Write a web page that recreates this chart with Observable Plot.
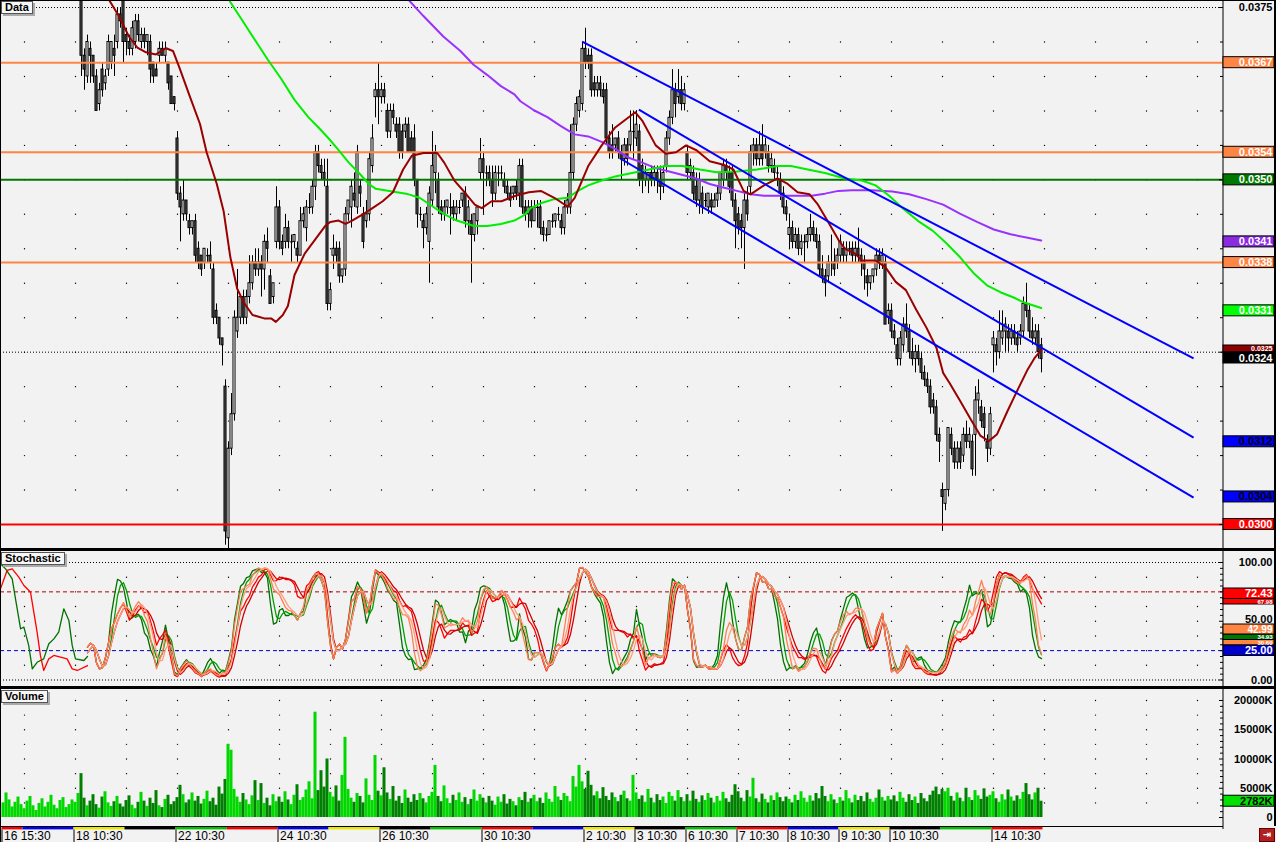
<!DOCTYPE html>
<html><head><meta charset="utf-8">
<script src="https://cdn.jsdelivr.net/npm/d3@7"></script>
<script src="https://cdn.jsdelivr.net/npm/@observablehq/plot@0.6"></script>
<style>
html,body{margin:0;padding:0;background:#f2f2f2;}
#wrap{position:relative;width:1276px;height:842px;overflow:hidden;background:#f2f2f2;font-family:"Liberation Sans",Arial,sans-serif;}
#wrap > div{position:absolute;}
svg{display:block}
.ttl{left:1px;height:11px;padding:0 3px;font:bold 11px "Liberation Sans",Arial,sans-serif;line-height:11px;color:#000;background:#f7f7f7;border:1px solid #555;box-shadow:2px 2px 0 #aaa;}
</style></head><body><div id="wrap"></div>
<script>
// ---------- data (prices in units of 0.0001) ----------
const firstBar = 26;
const open = [377,368,365,369,368,365,361,366,364,366,367,369,370,374,376,371,370,369,370,373,370,371,370,370,367,366,368,369,368,367,365,362,
356,348,345,347,344,343,344,340,339,338,339,339,337,331,330,327,320,298,311,316,328,330,333,330,333,335,338,337,338,337,
341,336,333,341,346,341,341,343,341,341,340,339,344,343,346,346,349,354,352,351,349,332,339,340,340,336,337,345,346,348,
346,349,345,344,345,352,362,363,362,363,360,357,360,358,358,357,357,358,356,356,350,345,344,343,341,347,351,350,346,345,
346,346,346,345,346,347,348,344,344,342,344,351,353,351,351,350,348,351,351,350,349,348,348,349,348,352,346,345,
346,344,346,346,343,342,342,344,344,345,344,343,346,346,351,358,360,361,369,368,368,364,363,364,363,363,356,355,355,356,
354,353,355,355,357,356,357,352,350,350,351,350,351,350,349,352,356,359,363,362,363,361,354,351,351,349,347,348,347,346,
347,346,347,348,350,352,351,351,347,345,344,343,347,349,354,355,353,355,354,354,352,352,351,350,348,346,342,343,341,342,
340,341,341,342,343,342,341,337,336,336,338,338,338,339,340,339,340,340,339,340,339,338,336,335,336,337,339,338,338,330,
331,328,326,324,326,329,328,325,324,325,324,322,321,320,318,317,313,305,303,305,313,311,309,311,310,313,312,312,313,318,
317,316,312,311,326,326,325,327,328,328,327,328,327,327,328,332,331,328,327,328,326];
const high = [379,369,371,370,368,366,364,367,366,371,370,371,375,375,378,372,371,373,374,374,372,372,371,371,367,367,370,370,370,367,365,362,
357,349,350,347,345,344,345,341,339,340,340,341,338,332,330,327,321,312,319,331,337,333,334,334,339,339,340,340,339,342,
343,337,335,349,347,342,345,344,342,342,341,346,346,347,348,350,355,355,353,353,353,335,342,341,341,337,346,347,350,351,
355,350,346,347,354,358,364,367,364,364,361,361,361,359,359,358,359,359,357,358,350,346,345,346,349,357,355,351,347,347,
347,348,347,347,347,348,349,347,345,345,346,356,354,352,352,352,352,352,352,351,350,349,349,350,353,353,347,347,
347,347,347,347,344,343,344,345,345,346,345,347,348,358,359,362,363,370,372,369,369,365,365,365,364,364,357,358,356,357,
355,356,356,360,360,360,358,353,352,351,352,352,352,352,352,357,360,366,364,366,365,364,355,353,352,351,351,349,348,348,
348,348,349,351,353,353,352,352,348,346,345,348,349,355,356,356,357,358,356,355,354,353,352,351,349,347,345,344,343,343,
342,342,343,345,344,343,342,339,337,339,342,340,340,342,341,341,341,341,341,343,340,339,337,336,337,340,340,340,339,332,
332,329,327,328,330,332,329,327,326,326,325,323,322,321,319,318,314,306,305,314,314,312,312,312,314,315,314,313,320,321,
318,317,313,317,328,327,331,331,330,329,329,329,328,329,333,335,332,330,329,329,327];
const low = [365,363,364,364,364,360,360,362,363,365,366,365,369,372,367,368,368,368,369,370,369,369,368,364,364,365,367,368,367,363,361,360,
347,341,344,344,342,342,338,337,336,337,338,337,329,329,326,323,297,296,310,315,327,329,329,329,332,334,336,336,333,334,
338,332,332,340,340,339,340,340,338,340,338,339,343,341,345,345,347,351,350,349,331,331,337,338,335,335,336,344,343,346,
345,346,340,343,344,351,359,358,361,361,356,356,358,356,353,353,356,354,354,349,343,344,340,342,335,346,348,345,344,344,
345,342,344,344,345,346,343,342,335,341,342,350,345,349,349,346,347,349,350,348,347,346,347,347,346,345,344,343,
343,344,343,342,341,341,342,343,343,344,342,342,345,345,350,357,359,360,366,366,362,362,362,362,361,355,353,353,354,353,
350,352,352,354,353,355,349,348,349,348,349,349,348,347,348,351,355,358,359,361,360,360,350,350,347,346,345,345,346,345,
345,346,346,347,349,350,348,346,340,342,340,337,344,348,352,352,352,352,353,351,351,350,349,347,345,344,340,340,340,339,
339,338,340,341,341,340,336,335,333,335,336,336,337,338,338,338,339,338,338,338,336,334,333,334,335,336,337,337,329,329,
327,326,323,323,325,327,324,323,322,323,321,320,319,316,316,312,309,299,302,304,310,308,308,308,309,311,311,307,307,316,
314,312,309,310,322,323,324,326,325,325,326,326,325,326,327,330,327,326,326,324,322];
const close = [368,366,370,368,365,360,363,363,365,370,370,368,374,373,370,370,369,372,373,371,371,370,371,366,365,365,369,368,369,364,361,361,
348,346,347,345,343,344,339,338,337,340,339,338,330,330,327,326,299,311,316,330,330,333,330,333,335,338,337,338,337,341,
340,332,335,346,341,340,343,341,341,342,339,344,345,346,346,349,354,352,351,350,332,334,340,339,336,337,345,347,349,347,
354,348,341,345,353,356,363,362,363,362,357,360,359,357,354,354,358,354,354,350,345,345,343,345,348,352,354,346,345,346,
347,346,345,346,346,348,344,346,342,345,346,353,351,351,350,348,351,351,351,349,348,347,349,348,352,346,345,346,
344,346,346,343,342,342,344,344,345,345,343,346,347,351,358,361,362,369,367,367,363,363,364,363,362,356,354,354,356,354,
353,355,353,357,357,358,350,350,351,351,350,351,350,349,351,356,359,363,361,363,361,363,351,352,348,347,350,346,347,348,
346,347,348,351,352,351,349,347,344,343,343,347,345,354,355,353,355,353,355,352,353,351,351,348,346,345,343,341,342,340,
341,341,342,343,342,341,337,336,335,338,338,337,339,341,339,340,340,339,340,339,338,337,335,336,337,339,338,339,329,331,
328,327,324,327,329,328,325,324,325,324,322,321,320,317,317,313,312,304,305,314,311,309,311,309,313,312,313,308,318,319,
315,314,311,316,327,325,328,328,329,327,328,327,326,328,332,331,328,327,328,325,324];
// volume in thousands, bar 0..346
const volume = [2500,4200,3000,1800,2600,3500,2200,
1500,2800,3600,2000,1200,2400,3200,1800,2600,3800,2100,1500,2900,3400,1700,2200,3000,
2600,4100,7500,3300,2000,2800,3900,2200,1600,3500,4400,2500,1900,2700,3600,2300,1800,
2900,3700,2100,1500,2600,4300,2800,1900,3300,2400,4600,2000,1700,3100,3800,2200,2700,
3400,5500,3900,2500,3000,4200,2800,3600,2300,3100,4500,2700,3300,2100,5200,4000,6500,
12500,11500,4800,3500,2600,4100,3000,2200,3700,6300,2900,5800,2400,3300,2000,3900,2700,
3500,2600,4400,3000,2200,3800,5600,2900,3400,4700,6100,3200,18000,4600,8000,5200,10000,
4300,3500,5400,2800,7200,13700,4800,3300,2600,4100,3600,2500,6600,3800,2900,10600,4500,
3700,8500,4200,3100,5300,2800,3600,2400,4700,3300,2600,3900,2900,4100,3200,2500,3600,
4300,8900,3600,2700,5400,3200,2400,3800,2900,4200,2600,3400,2200,3100,4700,2800,3900,
3300,2500,3600,2800,2100,3500,2600,3900,2300,3100,2700,2000,3400,2900,4300,2600,3200,
3800,2700,3300,2400,4200,3100,2600,5300,3500,2900,4100,3600,2700,7000,5200,8900,6100,
4800,7900,5500,3700,4400,3200,5100,3600,2900,4200,3400,2700,3800,4500,3200,2800,7200,
4200,3100,3700,2600,4800,3300,2500,3900,2900,3500,2400,4300,3600,2800,4600,3400,2700,
3900,2800,4500,3100,2600,3700,2900,4100,3300,2500,3600,2800,4300,3200,2600,3800,5600,
4400,3300,2700,4600,3500,6700,3200,2600,4000,3100,2500,3700,2900,4200,3400,2700,3500,
3100,2500,3800,2900,4400,3300,2600,3700,2800,4100,3200,5300,3600,2700,3900,3000,2400,
3400,2800,4600,3200,2500,3800,2900,3600,2700,4200,3100,2600,3300,4700,3400,2800,3600,
3000,3700,2700,4300,3300,2600,3900,2900,3500,2400,4100,3200,2700,3800,4500,5200,3900,
4800,4400,5000,3600,2800,4200,3300,2700,5000,3400,2900,4600,3700,3100,4900,3500,3800,
4400,3200,2600,3900,3000,4700,3500,2800,3700,3100,4300,5800,3900,3000,4200,5000,2782];
// moving averages (bar index, value)
const redMaIdx = [34,35.6,38.4,41.8,44.6,47.5,50.8,54.2,56.5,58.7,62.1,65.5,67.7,71.1,73.4,75.6,77.9,80.1,83,86.9,89.2,90.8,93.1,94.8,97,100.4,103.8,107.2,108.9,111.7,114,116.2,120.2,123,126.4,129.8,133.2,136.1,140,144.6,146.9,150.3,153.7,157.1,159.4,162.7,166,170.7,175.1,179.1,183.6,188.1,190.4,194.9,199.4,203.9,210.6,212.9,217.4,220.8,224.2,227.5,231,235.4,240,243.3,246.7,249,253.5,258,261.4,264.7,268.7,271.5,274.9,278.3,280.5,283.9,286.1,290.7,294,297.4,300.8,304.2,307.6,311,313.2,315.4,318.8,322.2,325.6,328.4,331.2,334.6,338,341.4,343.6,345.9];
const redMaVal = [377,375.8,373.8,370.8,369.2,368.5,368.2,369.1,368.7,366.2,362.1,358.1,354,349.4,345.4,338.8,334.2,332.2,330.4,329.9,329.9,329.4,330.4,331.7,336.2,339.3,341.3,343.3,343.9,344.1,343.6,344.1,345.1,345.9,346.9,348.2,351.5,353.5,353.9,353.9,352.5,349.9,348.2,346.4,345.9,346.9,346.9,347.7,348.2,348.4,347.4,346.1,347.4,352,355,357.6,359.8,358.6,355,353.8,354,355,354.3,352.7,352.2,351.5,348.4,347.9,349.2,350.2,349.4,348.2,347.9,346.4,343.9,341.3,340,339.3,338.3,338.3,337.3,335.2,334,331.2,328.6,325.6,322,320.5,318,315.4,312.9,312.1,313.1,316.4,319.5,322.5,324.1,325.3];
const greenMaIdx = [73,75.6,80.1,84.7,88,92.5,97,101.6,105,108.4,111.7,115.1,118.5,121.8,124.1,128.6,134.2,138.7,143.2,146.6,151.1,156.8,161.3,165.8,170.3,173.6,175.7,179.1,183.6,188.1,191.5,194.9,199.4,203.9,209.5,215.2,220.8,226.4,232.1,237.7,244.5,251.2,258,262.5,268.1,273.8,280.5,286.1,290.7,295.2,299.7,305.3,309.8,314.3,318.8,323.3,327.8,332.3,336.9,340.2,345.9];
const greenMaVal = [378,375.8,372.8,369.7,367.5,364.7,361.6,359.1,357.6,356,354.3,352.5,351,349.4,348.7,348.4,348,347.4,346.1,345.1,344.1,343.3,343.3,343.6,344.1,344.9,345.9,346.6,347.2,347.4,348.4,349.2,349.9,350.5,351,351.5,352,352,351.5,351.1,351.2,351.5,352,352,351.5,351,350.2,349.9,349.2,347.7,345.9,343.9,342.6,340.8,338.8,336.5,334.7,333.7,332.9,332.2,331.4];
const purpleMaIdx = [132,134.2,139.9,146.6,152.3,156.7,161.3,165.8,170.3,172.3,176.8,181.3,185.8,190.4,194.9,199.4,203.9,208.4,212.9,217.4,221.9,226.4,230.9,235.4,239.9,244.5,249,253.5,258,262.5,269.3,273.8,278.3,282.8,289.5,296.3,301.9,307.6,313.2,318.8,324.5,330.1,335.7,341.4,345.9];
const purpleMaVal = [378,376.5,373.8,370.8,368.7,366.7,365.2,363.6,362.4,361.4,360.1,359.1,357.8,356.6,356.3,355.5,354.5,353.2,352.5,351.7,351.2,350.7,350.2,349.4,348.9,348.4,347.9,347.7,347.7,347.7,347.7,348,348.4,348.5,348.5,348.3,347.9,347.2,346.4,345.1,343.9,342.8,342.1,341.6,341.2];
// trend channel: start bar, start value, end bar, end value
const chanX1 = [192.9, 211.8, 205.6];
const chanY1 = [370.07, 360.2, 353.1];
const chanX2 = [396.7, 396.7, 396.7];
const chanY2 = [324.1, 312.6, 303.9];
// horizontal levels
const levelVal = [367, 354, 350, 338, 300];
const levelColor = ["#ff8545", "#ff8545", "#007800", "#ff8545", "#ff0000"];
// right-hand price labels
const priceLabelVal = [367, 354, 350, 341, 338, 331, 325, 324, 312, 304, 300];
const priceLabelText = ["0.0367","0.0354","0.0350","0.0341","0.0338","0.0331","0.0325","0.0324","0.0312","0.0304","0.0300"];
const priceLabelFill = ["#ff8545","#ff8545","#007800","#8a2be2","#ff8545","#00ff00","#8b0000","#000000","#0000ff","#0000ff","#ff0000"];
const priceLabelInk = ["#fff","#fff","#fff","#fff","#fff","#fff","#fff","#fff","#000","#000","#fff"];
// stochastic: lines before the first visible price bar
const stochLeadGreenIdx = [-1,0.7,2.9,4,5.7,6.8,8.4,9.6,11.2,13.4,15.1,16.8,18.4,20.1,21.8,22.9,24,26.8,28];
const stochLeadGreenVal = [98.9,94.6,86.1,69.1,43.6,45,29.4,9.5,15.1,18,30.8,35,40.7,60.6,50.6,29.4,18,16.6,20];
const stochLeadRedIdx = [-1,1.2,2.9,5.1,6.8,7.9,9,10.1,11.2,12.3,13.4,15.1,16.8,19,21.2,22.9,24.6,28];
const stochLeadRedVal = [77.6,93.2,94.6,87.5,80.4,77.6,74.7,57.7,40.7,20.9,8.1,18,20.9,19.4,18,9.5,8.1,12.3];
const stochPeriod = [10, 10, 21, 21, 14, 14];
const stochSmooth = [1, 2, 1, 2, 1, 2];
const stochColor = ["#007000", "#00a000", "#ff0000", "#d00000", "#ff7f55", "#ff9c7a"];
const stochLabelVal = [67.98, 72.43, 34.93, 30.60, 42.99, 25.00];
const stochLabelText = ["67.98", "72.43", "34.93", "30.60", "42.99", "25.00"];
const stochLabelFill = ["#ff0000", "#ff0000", "#007800", "#ff8545", "#ff8545", "#0000cc"];
const stochAxisVal = [100, 50, 0];
const stochAxisText = ["100.00", "50.00", "0.00"];
// volume axis
const volAxisVal = [20000, 15000, 10000, 5000, 0];
const volAxisText = ["20000K", "15000K", "10000K", "5000K", "0"];
const volLastText = "2782K";
// time axis
const dayStart = [0,7,24,41,58,75,92,109,126,143,160,177,194,211,228,245,262,279,296,313,330,347];
const dayLabel = ["16 15:30","","18 10:30","","22 10:30","","24 10:30","","26 10:30","","30 10:30","","2 10:30","3 10:30","6 10:30","7 10:30","8 10:30","9 10:30","10 10:30","","14 10:30"];
const dayColors = ["#ff0000", "#0000ff", "#e8e800", "#000000", "#00c000"];

// ---------- layout (label stacking, in page pixels: box top, box bottom, font size) ----------
const priceLabelLayout = {6: [345, 352, 7], 7: [352, 363, 11]};
const stochLabelLayout = [[598.5, 604, 6], [588, 598.5, 11], [634, 639.5, 6], [639.5, 645, 6], [624, 634, 10], [645, 655.5, 11]];
const stochAxisDy = [0, -1.5, 0];

// ---------- helpers ----------
const W = 1276, PLOT_R = 1222;
const px2i = px => (px - 3) / 3;          // pixel -> bar index
const XD = [px2i(0), px2i(PLOT_R)];
const FONT = "Liberation Sans, Arial, sans-serif";
const AX = px2i(1222.5);
const BOX1 = px2i(1223), BOX2 = px2i(1274), TXT = px2i(1272);
const wrap = document.getElementById("wrap");
function place(node, top) { const d = document.createElement("div"); d.style.left = "0px"; d.style.top = top + "px"; d.appendChild(node); wrap.appendChild(d); return d; }
function base(h, ydom, marks) {
  return Plot.plot({
    width: W, height: h, marginLeft: 0, marginRight: W - PLOT_R, marginTop: 0, marginBottom: 0,
    style: {background: "transparent", overflow: "visible"},
    x: {domain: XD, axis: null}, y: {domain: ydom, axis: null}, color: {type: "identity"},
    marks
  });
}
const gridCols = d3.range(7, 404, 17);
const bold = {fontWeight: "bold", fontFamily: FONT, textAnchor: "end"};

// ---------- price panel ----------
const bars = open.map((o, k) => ({i: firstBar + k, open: o, high: high[k], low: low[k], close: close[k]}));
const bodies = bars.filter(d => d.open !== d.close);
const dojis = bars.filter(d => d.open === d.close);
const pTop = 0, pH = 548, pYD = [296.52, 376.02];
const pUnit = pH / (pYD[1] - pYD[0]);
const pInv = py => pYD[1] - (py - pTop) / pUnit;
const priceDots = gridCols.flatMap(c => d3.range(305, 375, 5).map(v => ({x: c, y: v})));
const ma = (idx, val) => idx.map((x, k) => ({x, y: val[k]}));
const channels = chanX1.map((x, k) => ({x1: x, y1: chanY1[k], x2: chanX2[k], y2: chanY2[k]}));
const pLabels = priceLabelVal.map((v, k) => {
  const py = pTop + (pYD[1] - v) * pUnit;
  const L = priceLabelLayout[k] || [py - 5.5, py + 5.5, 11];
  return {t: priceLabelText[k], f: priceLabelFill[k], c: priceLabelInk[k], y1: pInv(L[1]), y2: pInv(L[0]), ym: pInv((L[0] + L[1]) / 2), fs: L[2]};
});
const priceChart = base(pH, pYD, [
  Plot.dot(priceDots, {x: "x", y: "y", r: 0.7, fill: "#000", stroke: "none"}),
  Plot.ruleY([375, 325], {stroke: "#000", strokeDasharray: "1,2"}),
  Plot.ruleX(bars, {x: "i", y1: "low", y2: "high", stroke: "#000", clip: true}),
  Plot.rect(bodies, {x1: d => d.i - 0.34, x2: d => d.i + 0.34, y1: "open", y2: "close", fill: d => d.close > d.open ? "#ffffff" : "#555555", stroke: "#000", strokeWidth: 1, clip: true}),
  Plot.link(dojis, {x1: d => d.i - 0.5, x2: d => d.i + 0.5, y1: "open", y2: "open", stroke: "#000", clip: true}),
  Plot.ruleY(levelVal.map((v, k) => ({v, c: levelColor[k]})), {y: "v", stroke: "c", strokeWidth: 2}),
  Plot.line(ma(purpleMaIdx, purpleMaVal), {x: "x", y: "y", stroke: "#9a32ff", strokeWidth: 2, clip: true}),
  Plot.line(ma(greenMaIdx, greenMaVal), {x: "x", y: "y", stroke: "#00ee00", strokeWidth: 2, clip: true}),
  Plot.line(ma(redMaIdx, redMaVal), {x: "x", y: "y", stroke: "#990000", strokeWidth: 2, clip: true}),
  Plot.link(channels, {x1: "x1", y1: "y1", x2: "x2", y2: "y2", stroke: "#0000ff", strokeWidth: 2}),
  Plot.ruleX([AX], {stroke: "#000"}),
  Plot.link(d3.range(300, 376, 5), {x1: d => d % 25 === 0 ? px2i(1218.5) : px2i(1219.5), x2: AX, y1: d => d, y2: d => d, stroke: "#000"}),
  Plot.text([375], {x: TXT, y: d => d, text: () => "0.0375", fill: "#000", fontSize: 11, ...bold}),
  Plot.rect(pLabels, {x1: BOX1, x2: BOX2, y1: "y1", y2: "y2", fill: "f", stroke: "#000"}),
  ...pLabels.map(d => Plot.text([d], {x: TXT, y: "ym", text: "t", fill: "c", fontSize: d.fs, ...bold}))
]);
place(priceChart, pTop);

// ---------- stochastic panel ----------
function rawK(n) {
  return bars.map((d, k) => {
    let hh = -Infinity, ll = Infinity;
    for (let j = Math.max(0, k - n + 1); j <= k; j++) { hh = Math.max(hh, bars[j].high); ll = Math.min(ll, bars[j].low); }
    return hh > ll ? 100 * (d.close - ll) / (hh - ll) : 50;
  });
}
function sma(a, n) { return a.map((v, k) => { let s = 0, c = 0; for (let j = Math.max(0, k - n + 1); j <= k; j++) { s += a[j]; c++; } return s / c; }); }
const stochSeries = stochPeriod.map((n, s) => {
  let v = sma(rawK(n), 3);
  if (stochSmooth[s] > 1) v = sma(v, 3);
  return v.map((y, k) => ({x: bars[k].i, y})).slice(2);
});
const sTop = 551, sH = 135, sYD = [-5.53, 109.36];
const sUnit = sH / (sYD[1] - sYD[0]);
const sInv = py => sYD[1] - (py - sTop) / sUnit;
const stochDots = gridCols.flatMap(c => [12.5, 25, 37.5, 50, 62.5, 75, 87.5].map(v => ({x: c, y: v})));
const sLabels = stochLabelVal.map((v, k) => {
  const L = stochLabelLayout[k];
  return {t: stochLabelText[k], f: stochLabelFill[k], y1: sInv(L[1]), y2: sInv(L[0]), ym: sInv((L[0] + L[1]) / 2), fs: L[2]};
});
const stochChart = base(sH, sYD, [
  Plot.dot(stochDots, {x: "x", y: "y", r: 0.7, fill: "#000", stroke: "none"}),
  Plot.ruleY([100, 0], {stroke: "#000", strokeDasharray: "1,2"}),
  Plot.ruleY([75], {stroke: "#b00000", strokeDasharray: "4,3"}),
  Plot.ruleY([25], {stroke: "#0000c0", strokeDasharray: "4,3"}),
  Plot.line(ma(stochLeadGreenIdx, stochLeadGreenVal), {x: "x", y: "y", stroke: "#007000", strokeWidth: 1.3, clip: true}),
  Plot.line(ma(stochLeadRedIdx, stochLeadRedVal), {x: "x", y: "y", stroke: "#ff0000", strokeWidth: 1.3, clip: true}),
  ...stochSeries.map((d, s) => Plot.line(d, {x: "x", y: "y", stroke: stochColor[s], strokeWidth: 1.3, clip: true})),
  Plot.ruleX([AX], {stroke: "#000"}),
  Plot.link(d3.range(0, 101, 5), {x1: d => d % 50 === 0 ? px2i(1218.5) : px2i(1219.5), x2: AX, y1: d => d, y2: d => d, stroke: "#000"}),
  ...stochAxisVal.map((v, k) => Plot.text([v], {x: TXT, y: d => d, dy: stochAxisDy[k], text: () => stochAxisText[k], fill: "#000", fontSize: 11, ...bold})),
  Plot.rect(sLabels, {x1: BOX1, x2: BOX2, y1: "y1", y2: "y2", fill: "f", stroke: "#000"}),
  ...sLabels.map(d => Plot.text([d], {x: TXT, y: "ym", text: "t", fill: "#fff", fontSize: d.fs, ...bold}))
]);
place(stochChart, sTop);

// ---------- volume panel ----------
const vTop = 689, vH = 137, vYD = [-1538, 21880];
const vUnit = vH / (vYD[1] - vYD[0]);
const vh = 5.5 / vUnit;
const vols = volume.map((v, i) => {
  const b = i >= firstBar ? bars[i - firstBar] : null;
  return {i, v, c: b && b.close < b.open ? "#008000" : "#00d800"};
});
const volDots = gridCols.flatMap(c => [2500, 5000, 7500, 10000, 12500, 15000, 17500, 20000].map(v => ({x: c, y: v})));
const lastVol = volume[volume.length - 1];
const volChart = base(vH, vYD, [
  Plot.dot(volDots, {x: "x", y: "y", r: 0.7, fill: "#000", stroke: "none"}),
  Plot.rect(vols, {x1: d => d.i - 0.5, x2: d => d.i + 0.5, y1: 0, y2: "v", fill: "c"}),
  Plot.ruleX([AX], {stroke: "#000"}),
  Plot.link(d3.range(0, 21000, 1000), {x1: d => d % 5000 === 0 ? px2i(1218.5) : px2i(1219.5), x2: AX, y1: d => d, y2: d => d, stroke: "#000"}),
  Plot.text(volAxisVal, {x: TXT, y: d => d, text: (d, k) => volAxisText[k], fill: "#000", fontSize: 11, ...bold}),
  Plot.rect([lastVol], {x1: BOX1, x2: BOX2, y1: d => d - vh, y2: d => d + vh, fill: "#00e000", stroke: "#000"}),
  Plot.text([lastVol], {x: TXT, y: d => d, text: () => volLastText, fill: "#000", fontSize: 11, ...bold})
]);
place(volChart, vTop);

// ---------- time axis ----------
const days = dayStart.slice(0, -1).map((s, k) => ({s, e: dayStart[k + 1], c: dayColors[k % 5], t: dayLabel[k]}));
const labeled = days.filter(d => d.t);
const axisChart = Plot.plot({
  width: W, height: 16, marginLeft: 0, marginRight: W - PLOT_R, marginTop: 0, marginBottom: 0,
  style: {background: "transparent", overflow: "visible"},
  x: {domain: XD, axis: null}, y: {domain: [0, 16], range: [0, 16], axis: null}, color: {type: "identity"},
  marks: [
    Plot.rect(days, {x1: d => d.s - 0.5, x2: d => d.e - 0.5, y1: 0.6, y2: 3.4, fill: "c"}),
    Plot.ruleX(labeled, {x: d => d.s - 0.5, y1: 3.5, y2: 16, stroke: "#000"}),
    Plot.text(labeled, {x: d => d.s - 0.5, y: 10, dx: 2, text: "t", textAnchor: "start", fill: "#000", fontSize: 12, fontFamily: FONT}),
    Plot.ruleX([AX], {y1: 0, y2: 3, stroke: "#000"})
  ]
});
place(axisChart, 826);

// ---------- frame decorations ----------
function box(css, html) { const d = document.createElement("div"); d.style.cssText = css; if (html) d.innerHTML = html; wrap.appendChild(d); return d; }
box("left:0;top:0;width:1276px;height:1px;background:#000;");
box("left:0;top:0;width:1px;height:842px;background:#000;");
box("left:1274px;top:0;width:2px;height:826px;background:#000;");
box("left:0;top:548px;width:1276px;height:3px;background:#000;");
box("left:0;top:686px;width:1276px;height:3px;background:#000;");
box("left:0;top:826px;width:1223px;height:1px;background:#000;");
const t1 = box("top:1px;", "Data"); t1.className = "ttl";
const t2 = box("top:552px;", "Stochastic"); t2.className = "ttl";
const t3 = box("top:690px;", "Volume"); t3.className = "ttl";
box("left:1259px;top:828px;width:14px;height:12px;background:#b02020;border:1px solid #600;color:#fff;font:bold 10px 'DejaVu Sans',sans-serif;line-height:12px;text-align:center;", "&#8677;");
</script>
</body></html>
